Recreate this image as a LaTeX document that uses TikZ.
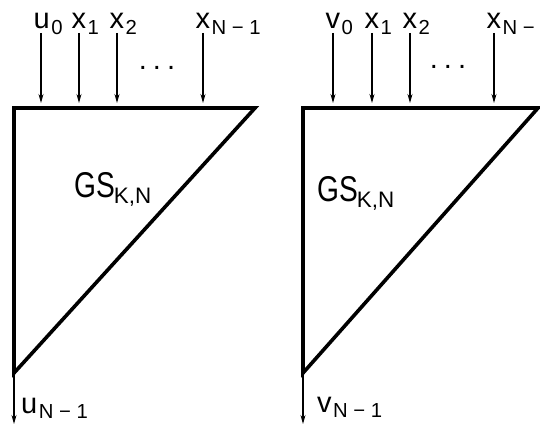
\documentclass[tikz,border=0pt]{standalone}
\usepackage{fontspec}
\setmainfont{Liberation Sans}
\usetikzlibrary{arrows.meta}
\newcommand{\sub}[1]{\kern1.5pt\textsubscript{#1}}

\begin{document}
\begin{tikzpicture}[x=1pt,y=-1pt,
      font=\fontsize{29}{32}\selectfont,
      blk/.style={line width=3.6pt,line join=miter,miter limit=20},
      feed/.style={-{Stealth[length=9pt,width=5pt]},line width=1.1pt},
      lab/.style={anchor=base west,inner sep=0pt},
      gs/.style={anchor=base west,inner sep=0pt,font=\fontsize{32}{36}\selectfont}]
    \useasboundingbox (0,0) rectangle (540,425);
    % left block
    \coordinate (la) at (14,108);
    \coordinate (lb) at (255,108);
    \coordinate (lc) at (14,373);
    \draw[blk] (la) -- (lb) -- (lc) -- cycle;
    \node[gs] (lgs) at (74,197) {\scalebox{0.88}[1.12]{GS}\kern-1pt\textsubscript{K,N}};
    \foreach \n/\x/\t in {lu/41/u\sub{0},l1/79/x\sub{1},
                          l2/117/x\sub{2},ln/203/x\sub{N − 1}}{
      \node[lab] (\n) at (\x-7.5,29) {\t};
      \coordinate (\n t) at (\x,103);
      \draw[feed] (\x,33) -- (\n t);}
    \node[inner sep=0pt] (ldots) at (157,68) {.\hspace{6pt}.\hspace{6pt}.};
    \coordinate (lo) at (14,424);
    \draw[feed] (lc) -- (lo);
    \node[lab] (lout) at (21,413) {u\sub{N − 1}};
    % right block
    \coordinate (ra) at (303,108);
    \coordinate (rb) at (538,108);
    \coordinate (rc) at (303,373);
    \draw[blk] (ra) -- (rb) -- (rc) -- cycle;
    \node[gs] (rgs) at (317,201) {\scalebox{0.88}[1.12]{GS}\kern-1pt\textsubscript{K,N}};
    \foreach \n/\x/\t in {rv/333/v\sub{0},r1/372/x\sub{1},
                          r2/410/x\sub{2},rn/494/x\sub{N − 1}}{
      \node[lab] (\n) at (\x-7.5,29) {\t};
      \coordinate (\n t) at (\x,103);
      \draw[feed] (\x,33) -- (\n t);}
    \node[inner sep=0pt] (rdots) at (448,67) {.\hspace{6pt}.\hspace{6pt}.};
    \coordinate (ro) at (303,424);
    \draw[feed] (rc) -- (ro);
    \node[lab] (rout) at (317,412) {v\sub{N − 1}};
\end{tikzpicture}
\end{document}
